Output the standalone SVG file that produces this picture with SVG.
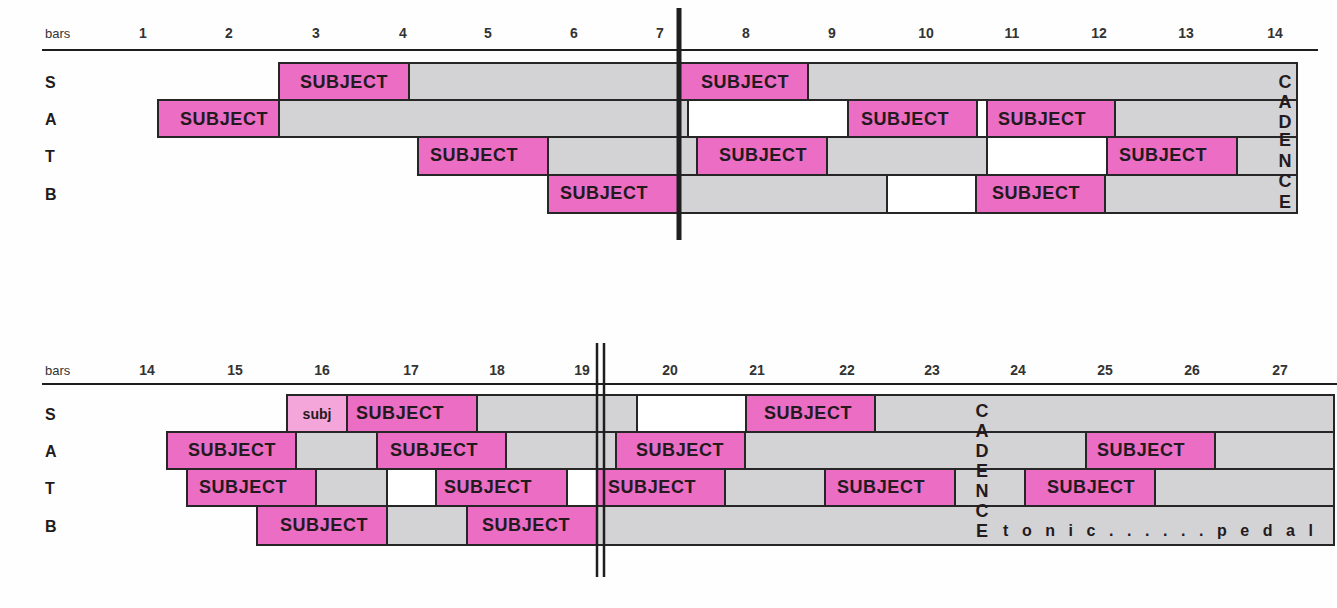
<svg xmlns="http://www.w3.org/2000/svg" width="1337" height="608" viewBox="0 0 1337 608">
<style>
.bx rect{stroke:#262626;stroke-width:2}
.p{fill:#ec6dc4}
.g{fill:#d3d3d5}
.w{fill:#ffffff}
.lp{fill:#f4a6da}
text{font-family:"Liberation Sans",Arial,sans-serif;fill:#231a20}
.s{font-size:18px;font-weight:bold;text-anchor:middle;letter-spacing:0.6px}
.n{font-size:14px;font-weight:bold;text-anchor:middle;fill:#333}
.h{font-size:13px;fill:#333}
.v{font-size:16px;font-weight:bold}
.c{font-size:18px;font-weight:bold;text-anchor:middle}
.ln{stroke:#1e1e1e;fill:none}
</style>
<rect x="0" y="0" width="1337" height="608" fill="#fefefe"/>

<!-- TOP SECTION -->
<g id="top-header">
<text class="h" x="45" y="38">bars</text>
<text class="n" x="143" y="38">1</text>
<text class="n" x="229" y="38">2</text>
<text class="n" x="316" y="38">3</text>
<text class="n" x="403" y="38">4</text>
<text class="n" x="488" y="38">5</text>
<text class="n" x="574" y="38">6</text>
<text class="n" x="660" y="38">7</text>
<text class="n" x="746" y="38">8</text>
<text class="n" x="832" y="38">9</text>
<text class="n" x="926" y="38">10</text>
<text class="n" x="1012" y="38">11</text>
<text class="n" x="1099" y="38">12</text>
<text class="n" x="1186" y="38">13</text>
<text class="n" x="1275" y="38">14</text>
</g>
<g id="top-labels">
<text class="v" x="45" y="88">S</text>
<text class="v" x="45" y="125">A</text>
<text class="v" x="45" y="162">T</text>
<text class="v" x="45" y="200">B</text>
</g>
<g id="top-S" class="bx">
<rect class="p" x="279" y="63" width="130" height="37"/><text class="s" x="344" y="88">SUBJECT</text>
<rect class="g" x="409" y="63" width="271" height="37"/>
<rect class="p" x="680" y="63" width="128" height="37"/><text class="s" x="745" y="88">SUBJECT</text>
<rect class="g" x="808" y="63" width="489" height="37"/>
</g>
<g id="top-A" class="bx">
<rect class="p" x="158" y="100" width="121" height="37"/><text class="s" x="224" y="125">SUBJECT</text>
<rect class="g" x="279" y="100" width="409" height="37"/>
<rect class="w" x="688" y="100" width="160" height="37"/>
<rect class="p" x="848" y="100" width="129" height="37"/><text class="s" x="905" y="125">SUBJECT</text>
<rect class="w" x="977" y="100" width="10" height="37"/>
<rect class="p" x="987" y="100" width="128" height="37"/><text class="s" x="1042" y="125">SUBJECT</text>
<rect class="g" x="1115" y="100" width="182" height="37"/>
</g>
<g id="top-T" class="bx">
<rect class="p" x="418" y="137" width="130" height="38"/><text class="s" x="474" y="161">SUBJECT</text>
<rect class="g" x="548" y="137" width="149" height="38"/>
<rect class="p" x="697" y="137" width="130" height="38"/><text class="s" x="763" y="161">SUBJECT</text>
<rect class="g" x="827" y="137" width="160" height="38"/>
<rect class="w" x="987" y="137" width="120" height="38"/>
<rect class="p" x="1107" y="137" width="130" height="38"/><text class="s" x="1163" y="161">SUBJECT</text>
<rect class="g" x="1237" y="137" width="60" height="38"/>
</g>
<g id="top-B" class="bx">
<rect class="p" x="548" y="175" width="132" height="38"/><text class="s" x="604" y="199">SUBJECT</text>
<rect class="g" x="680" y="175" width="207" height="38"/>
<rect class="w" x="887" y="175" width="89" height="38"/>
<rect class="p" x="976" y="175" width="129" height="38"/><text class="s" x="1036" y="199">SUBJECT</text>
<rect class="g" x="1105" y="175" width="192" height="38"/>
</g>
<g id="top-cadence">
<text class="c" x="1285" y="88">C</text>
<text class="c" x="1285" y="108">A</text>
<text class="c" x="1285" y="128">D</text>
<text class="c" x="1285" y="146">E</text>
<text class="c" x="1285" y="167">N</text>
<text class="c" x="1285" y="187">C</text>
<text class="c" x="1285" y="208">E</text>
</g>

<!-- BOTTOM SECTION -->
<g id="bottom-header">
<text class="h" x="45" y="375">bars</text>
<text class="n" x="147" y="375">14</text>
<text class="n" x="235" y="375">15</text>
<text class="n" x="322" y="375">16</text>
<text class="n" x="411" y="375">17</text>
<text class="n" x="497" y="375">18</text>
<text class="n" x="582" y="375">19</text>
<text class="n" x="670" y="375">20</text>
<text class="n" x="757" y="375">21</text>
<text class="n" x="847" y="375">22</text>
<text class="n" x="932" y="375">23</text>
<text class="n" x="1018" y="375">24</text>
<text class="n" x="1105" y="375">25</text>
<text class="n" x="1192" y="375">26</text>
<text class="n" x="1280" y="375">27</text>
</g>
<g id="bottom-labels">
<text class="v" x="45" y="420">S</text>
<text class="v" x="45" y="457">A</text>
<text class="v" x="45" y="494">T</text>
<text class="v" x="45" y="532">B</text>
</g>
<g id="bottom-S" class="bx">
<rect class="lp" x="287" y="395" width="60" height="37"/><text x="317" y="419" style="font-size:14px;font-weight:bold;text-anchor:middle">subj</text>
<rect class="p" x="347" y="395" width="130" height="37"/><text class="s" x="400" y="419">SUBJECT</text>
<rect class="g" x="477" y="395" width="160" height="37"/>
<rect class="w" x="637" y="395" width="109" height="37"/>
<rect class="p" x="746" y="395" width="129" height="37"/><text class="s" x="808" y="419">SUBJECT</text>
<rect class="g" x="875" y="395" width="459" height="37"/>
</g>
<g id="bottom-A" class="bx">
<rect class="p" x="167" y="432" width="129" height="37"/><text class="s" x="232" y="456">SUBJECT</text>
<rect class="g" x="296" y="432" width="81" height="37"/>
<rect class="p" x="377" y="432" width="129" height="37"/><text class="s" x="434" y="456">SUBJECT</text>
<rect class="g" x="506" y="432" width="110" height="37"/>
<rect class="p" x="616" y="432" width="129" height="37"/><text class="s" x="680" y="456">SUBJECT</text>
<rect class="g" x="745" y="432" width="341" height="37"/>
<rect class="p" x="1086" y="432" width="129" height="37"/><text class="s" x="1141" y="456">SUBJECT</text>
<rect class="g" x="1215" y="432" width="119" height="37"/>
</g>
<g id="bottom-T" class="bx">
<rect class="p" x="187" y="469" width="129" height="37"/><text class="s" x="243" y="493">SUBJECT</text>
<rect class="g" x="316" y="469" width="71" height="37"/>
<rect class="w" x="387" y="469" width="49" height="37"/>
<rect class="p" x="436" y="469" width="131" height="37"/><text class="s" x="488" y="493">SUBJECT</text>
<rect class="w" x="567" y="469" width="30" height="37"/>
<rect class="p" x="597" y="469" width="128" height="37"/><text class="s" x="652" y="493">SUBJECT</text>
<rect class="g" x="725" y="469" width="100" height="37"/>
<rect class="p" x="825" y="469" width="130" height="37"/><text class="s" x="881" y="493">SUBJECT</text>
<rect class="g" x="955" y="469" width="70" height="37"/>
<rect class="p" x="1025" y="469" width="130" height="37"/><text class="s" x="1091" y="493">SUBJECT</text>
<rect class="g" x="1155" y="469" width="179" height="37"/>
</g>
<g id="bottom-B" class="bx">
<rect class="p" x="257" y="506" width="130" height="39"/><text class="s" x="324" y="531">SUBJECT</text>
<rect class="g" x="387" y="506" width="80" height="39"/>
<rect class="p" x="467" y="506" width="130" height="39"/><text class="s" x="526" y="531">SUBJECT</text>
<rect class="g" x="597" y="506" width="737" height="39"/>
</g>
<g id="bottom-cadence">
<text class="c" x="982" y="417">C</text>
<text class="c" x="982" y="437">A</text>
<text class="c" x="982" y="457">D</text>
<text class="c" x="982" y="477">E</text>
<text class="c" x="982" y="497">N</text>
<text class="c" x="982" y="517">C</text>
<text class="c" x="982" y="537">E</text>
<text x="1003" y="536" textLength="310" lengthAdjust="spacing" style="font-size:16px;font-weight:bold">tonic......pedal</text>
</g>

<g id="connectors">
<line class="ln" x1="42" y1="50" x2="1318" y2="50" stroke-width="2"/>
<line class="ln" x1="679" y1="8" x2="679" y2="240" stroke-width="5"/>
<line class="ln" x1="42" y1="384" x2="1337" y2="384" stroke-width="2"/>
<line class="ln" x1="597" y1="343" x2="597" y2="577" stroke-width="2.5"/>
<line class="ln" x1="604" y1="343" x2="604" y2="577" stroke-width="2.5"/>
</g>
</svg>
